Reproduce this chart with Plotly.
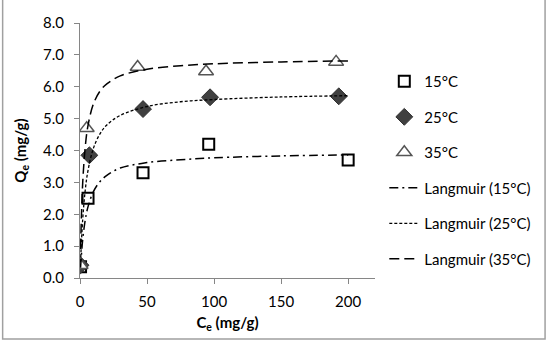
import plotly.graph_objects as go

ce_15 = [0.4, 6, 47, 96, 200]
qe_15 = [0.35, 2.5, 3.3, 4.2, 3.7]
ce_25 = [0.4, 7, 47, 97, 193]
qe_25 = [0.4, 3.85, 5.3, 5.67, 5.7]
ce_35 = [0.4, 5, 43, 94, 191]
qe_35 = [0.4, 4.7, 6.62, 6.48, 6.78]

# Langmuir curves
ce_fit = [0.4, 2, 4, 6, 10, 15, 20, 30, 50, 75, 100, 150, 200]
fit_15 = [0.32, 1.20, 1.84, 2.24, 2.71, 3.03, 3.22, 3.45, 3.62, 3.71, 3.77, 3.83, 3.86]
fit_25 = [0.49, 1.83, 2.79, 3.38, 4.07, 4.53, 4.80, 5.10, 5.38, 5.53, 5.60, 5.68, 5.72]
fit_35 = [0.91, 2.97, 4.15, 4.79, 5.46, 5.87, 6.09, 6.34, 6.55, 6.66, 6.72, 6.78, 6.81]

x_ticks = [0, 50, 100, 150, 200]
y_ticks = [0, 1, 2, 3, 4, 5, 6, 7, 8]

FONT = "Lato, Open Sans, sans-serif"
fig = go.Figure()

fig.add_trace(go.Scatter(x=ce_15, y=qe_15, mode="markers", name="15°C", legendgroup="a",
                         marker=dict(symbol="square", size=11, color="white",
                                     line=dict(color="black", width=2))))
fig.add_trace(go.Scatter(x=ce_25, y=qe_25, mode="markers", name="25°C", legendgroup="b",
                         marker=dict(symbol="diamond", size=13, color="#404040",
                                     line=dict(color="#303030", width=1))))
fig.add_trace(go.Scatter(x=ce_35, y=qe_35, mode="markers", name="35°C", legendgroup="c",
                         marker=dict(symbol="triangle-up", size=13, color="white",
                                     line=dict(color="#555555", width=1.5))))
fig.add_trace(go.Scatter(x=ce_fit, y=fit_15, mode="lines", name="Langmuir (15°C)", legendgroup="d",
                         line=dict(color="black", width=1.5, dash="9px,4px,2px,4px", shape="spline")))
fig.add_trace(go.Scatter(x=ce_fit, y=fit_25, mode="lines", name="Langmuir (25°C)", legendgroup="e",
                         line=dict(color="black", width=1.3, dash="3px,2px", shape="spline")))
fig.add_trace(go.Scatter(x=ce_fit, y=fit_35, mode="lines", name="Langmuir (35°C)", legendgroup="f",
                         line=dict(color="black", width=1.5, dash="10px,5px", shape="spline")))

fig.update_layout(
    width=550, height=342,
    margin=dict(l=80, r=4, t=23, b=64, autoexpand=False),
    paper_bgcolor="white", plot_bgcolor="white",
    font=dict(family=FONT, size=15, color="black"),
    legend=dict(x=0.653, y=0.835, xanchor="left", yanchor="top",
                tracegroupgap=13, font=dict(size=15), bgcolor="rgba(0,0,0,0)"),
    xaxis=dict(domain=[0, 0.633], range=[0, 220], tickvals=x_ticks, showgrid=False, zeroline=False,
               showline=True, linecolor="#868686", linewidth=1,
               ticks="outside", ticklen=5, tickcolor="#868686", ticklabelstandoff=5,
               title=dict(text="<b>C<sub>e</sub> (mg/g)</b>", font=dict(size=15), standoff=8)),
    yaxis=dict(range=[0, 8], tickvals=y_ticks, tickformat=".1f", showgrid=False, zeroline=False,
               showline=True, linecolor="#868686", linewidth=1,
               ticks="outside", ticklen=5, tickcolor="#868686", ticklabelstandoff=7,
               title=dict(text="<b>Q<sub>e</sub> (mg/g)</b>", font=dict(size=15), standoff=12)),
)

fig.add_shape(type="rect", xref="paper", yref="paper",
              x0=-0.166, x1=0.998, y0=-0.239, y1=1.1,
              line=dict(color="#a0a0a0", width=1.5), fillcolor="rgba(0,0,0,0)", layer="above")

fig.write_html("out.html", config={"displayModeBar": False},
               post_script="document.body.style.margin='0';")
